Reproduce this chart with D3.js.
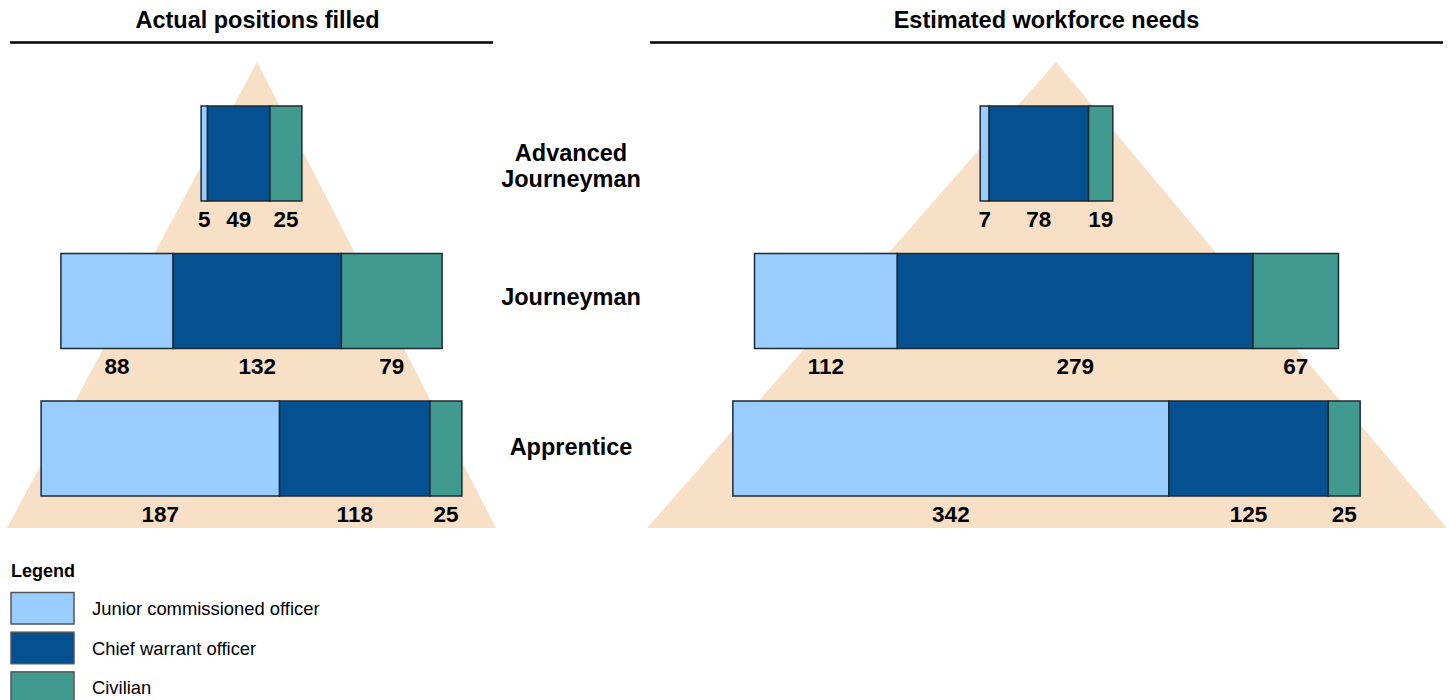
<!DOCTYPE html>
<meta charset="utf-8">
<head>
<script src="https://d3js.org/d3.v7.min.js"></script>
<style>
body { margin: 0; background: #fff; }
svg { display: block; font-family: "Liberation Sans", Arial, sans-serif; }
</style>
</head>
<body>
<script>
    // data
    const levels = ["Advanced Journeyman", "Journeyman", "Apprentice"]
    const types = ["Junior commissioned officer", "Chief warrant officer", "Civilian"]

    const actualJCO = [5, 88, 187]
    const actualCWO = [49, 132, 118]
    const actualCiv = [25, 79, 25]

    const needsJCO = [7, 112, 342]
    const needsCWO = [78, 279, 125]
    const needsCiv = [19, 67, 25]

    const panelTitles = ["Actual positions filled", "Estimated workforce needs"]

    width = 1450
    height = 700

    color = d3.scaleOrdinal(types, ["#99ccff", "#045091", "#409a90"])

    // px per position, shared by both panels
    x = d3.scaleLinear().domain([0, 100]).range([0, 127.5])

    y = d3.scaleBand().domain(levels).range([106, 496]).paddingInner(0.356).paddingOuter(0)

    // panel geometry
    panels = [
      {title: panelTitles[0], cx: 251.5, tx: 257.5, line: [10, 493], tri: {apex: 257, left: 7, right: 496},
       rows: levels.map((l, i) => ({level: l, v: [actualJCO[i], actualCWO[i], actualCiv[i]]}))},
      {title: panelTitles[1], cx: 1046.5, tx: 1046.5, line: [650, 1443], tri: {apex: 1056, left: 647, right: 1447},
       rows: levels.map((l, i) => ({level: l, v: [needsJCO[i], needsCWO[i], needsCiv[i]]}))}
    ]

    var svg = d3.select("body").append("svg")
      .attr("width", width)
      .attr("height", height)
      .attr("viewBox", [0, 0, width, height])

    panels.forEach(p => {
      var g = svg.append("g")

      g.append("text")
        .attr("x", p.tx)
        .attr("y", 28)
        .attr("text-anchor", "middle")
        .attr("font-weight", "bold")
        .attr("font-size", 23.5)
        .text(p.title)

      g.append("line")
        .attr("x1", p.line[0]).attr("x2", p.line[1])
        .attr("y1", 42.5).attr("y2", 42.5)
        .attr("stroke", "#000")
        .attr("stroke-width", 2.5)

      // backdrop pyramid
      g.append("path")
        .attr("d", `M${p.tri.apex},62L${p.tri.right},528L${p.tri.left},528Z`)
        .attr("fill", "#f8e0c7")

      p.rows.forEach(r => {
        const total = d3.sum(r.v)
        const x0 = p.cx - x(total) / 2
        let acc = 0
        const segs = r.v.map((v, j) => {
          const s = {type: types[j], v: v, a: acc}
          acc += v
          return s
        })

        var row = g.append("g")
          .attr("transform", `translate(${x0},${y(r.level)})`)

        row.selectAll("rect")
          .data(segs)
          .join("rect")
            .attr("x", d => x(d.a))
            .attr("width", d => x(d.v))
            .attr("y", 0)
            .attr("height", y.bandwidth())
            .attr("fill", d => color(d.type))
            .attr("stroke", "#1d2a33")
            .attr("stroke-width", 1.5)

        row.selectAll("text")
          .data(segs)
          .join("text")
            .attr("x", d => x(d.a + d.v / 2))
            .attr("y", y.bandwidth() + 26)
            .attr("text-anchor", "middle")
            .attr("font-weight", "bold")
            .attr("font-size", 22.5)
            .text(d => d.v)
      })
    })

    // level labels in the middle
    const labelDy = {"Advanced Journeyman": 10, "Journeyman": 3.5, "Apprentice": 6.5}
    svg.append("g")
      .selectAll("text")
      .data(levels)
      .join("text")
        .attr("x", 571)
        .attr("y", d => y(d) + y.bandwidth() / 2 + labelDy[d])
        .attr("text-anchor", "middle")
        .attr("font-weight", "bold")
        .attr("font-size", 23.5)
        .each(function(d) {
          const words = d.split(" ")
          const t = d3.select(this)
          if (words.length > 1) {
            t.append("tspan").attr("x", 571).attr("dy", "-0.1em").text(words[0])
            t.append("tspan").attr("x", 571).attr("dy", "1.12em").text(words.slice(1).join(" "))
          } else {
            t.text(d)
          }
        })

    // legend
    svg.append("text")
      .attr("x", 11)
      .attr("y", 577)
      .attr("font-weight", "bold")
      .attr("font-size", 18)
      .text("Legend")

    var legend = svg.selectAll(".legend")
      .data(types)
      .enter().append("g")
      .attr("class", "legend")
      .attr("transform", (d, i) => `translate(11,${592.5 + i * 39.7})`)

    legend.append("rect")
      .attr("width", 63)
      .attr("height", 31.5)
      .attr("fill", d => color(d))
      .attr("stroke", "#555")
      .attr("stroke-width", 1.5)

    legend.append("text")
      .attr("x", 81)
      .attr("y", 22.5)
      .attr("font-size", 18.4)
      .text(d => d)
</script>
</body>
